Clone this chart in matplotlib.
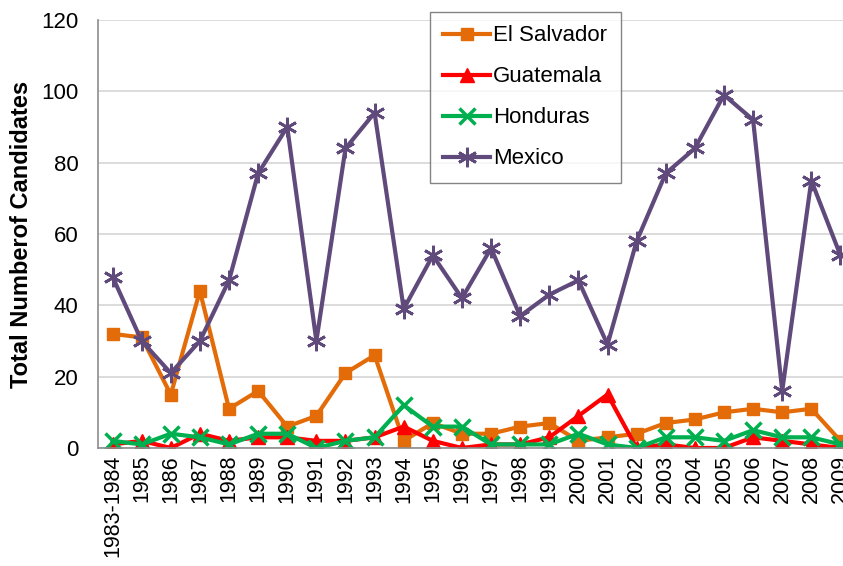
import matplotlib
matplotlib.use('Agg')
import matplotlib.pyplot as plt

plt.rcParams['font.family'] = ['Liberation Sans', 'DejaVu Sans']

# data
years = ['1983-1984', '1985', '1986', '1987', '1988', '1989', '1990', '1991', '1992',
         '1993', '1994', '1995', '1996', '1997', '1998', '1999', '2000', '2001', '2002',
         '2003', '2004', '2005', '2006', '2007', '2008', '2009']
el_salvador = [32, 31, 15, 44, 11, 16, 6, 9, 21, 26, 2, 7, 4, 4, 6, 7, 2, 3, 4, 7, 8, 10, 11, 10, 11, 2]
guatemala = [1, 2, 0, 4, 2, 3, 3, 2, 2, 3, 6, 2, 0, 1, 1, 3, 9, 15, 0, 1, 0, 0, 3, 2, 1, 0]
honduras = [2, 1, 4, 3, 1, 4, 4, 0, 2, 3, 12, 6, 6, 1, 1, 1, 4, 1, 0, 3, 3, 2, 5, 3, 3, 1]
mexico = [48, 30, 21, 30, 47, 77, 90, 30, 84, 94, 39, 54, 42, 56, 37, 43, 47, 29, 58, 77,
          84, 99, 92, 16, 75, 54]

fig = plt.figure(figsize=(8.43, 5.66), dpi=100)
ax = fig.add_axes([98 / 843, 118 / 566, 757 / 843, 428 / 566])

x = range(len(years))
ax.plot(x, el_salvador, color='#E36C09', lw=3, marker='s', ms=9, label='El Salvador')
ax.plot(x, guatemala, color='#FF0000', lw=3, marker='^', ms=10, label='Guatemala')
ax.plot(x, honduras, color='#00B050', lw=3, marker='x', ms=11, mew=2.5, label='Honduras')
ax.plot(x, mexico, color='#604A7B', lw=3, marker=(6, 2, 0), ms=14, mew=2, label='Mexico')

ax.set_xlim(-0.5, len(years) - 0.5)
ax.set_ylim(0, 120)
ax.set_yticks(range(0, 121, 20))
ax.set_xticks(list(x))
ax.set_xticklabels(years, rotation=90, fontsize=15.5)
ax.tick_params(axis='y', labelsize=16, length=0, pad=14)
ax.tick_params(axis='x', length=0, pad=5)
ax.yaxis.grid(True, color='#d9d9d9', lw=1.3)
ax.set_axisbelow(True)
for s in ['top', 'right']:
    ax.spines[s].set_visible(False)
for s in ['left', 'bottom']:
    ax.spines[s].set_color('#8c8c8c')
    ax.spines[s].set_linewidth(1.2)
ax.set_ylabel('Total Numberof Candidates', fontsize=17, fontweight='bold', labelpad=6)

leg = ax.legend(loc='upper left', bbox_to_anchor=(430 / 843, 1 - 12 / 566),
                bbox_transform=fig.transFigure, fontsize=16, frameon=True, fancybox=False,
                borderaxespad=0, handlelength=2.1, labelspacing=0.9, handletextpad=0.15,
                borderpad=0.6)
leg.get_frame().set_edgecolor('#666666')
leg.get_frame().set_linewidth(1)

fig.savefig('out.png', dpi=100)
